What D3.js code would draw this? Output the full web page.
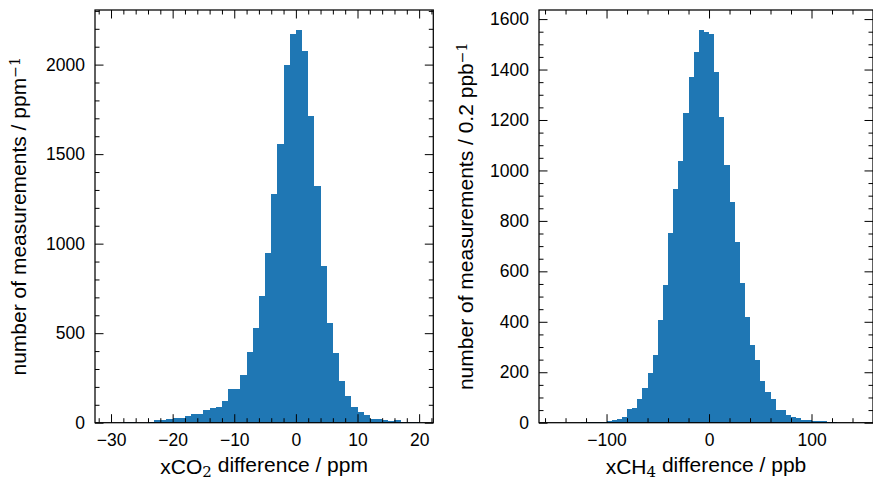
<!DOCTYPE html>
<html>
<head>
<meta charset="utf-8">
<script src="https://cdn.jsdelivr.net/npm/d3@7"></script>
<style>
  html, body { margin: 0; padding: 0; background: #fff; }
  svg { display: block; }
  text { font-family: "Liberation Sans", Arial, sans-serif; fill: #000; }
</style>
</head>
<body>
<svg id="chart" width="873" height="481"></svg>
<script>
// ---------- DATA ----------
// xCO2 difference histogram (bin left edges, ppm; bins 1 ppm wide)
const co2BinLeft = [-29,-28,-27,-26,-25,-24,-23,-22,-21,-20,-19,-18,-17,-16,-15,-14,-13,-12,-11,-10,
  -9,-8,-7,-6,-5,-4,-3,-2,-1,0,1,2,3,4,5,6,7,8,9,10,11,12,13,14,15,16,17,18,19];
const co2Counts = [0,3,3,0,1,2,13,15,19,28,24,39,47,48,69,82,89,119,186,188,
  266,395,529,708,946,1276,1555,2000,2170,2194,2078,1715,1322,875,555,388,233,151,88,60,43,22,22,15,9,15,2,4,4];
const co2BinWidth = 1;

// xCH4 difference histogram (bin left edges, ppb; bins 5 ppb wide)
const ch4BinLeft = [-125,-120,-115,-110,-105,-100,-95,-90,-85,-80,-75,-70,-65,-60,-55,-50,-45,-40,-35,-30,
  -25,-20,-15,-10,-5,0,5,10,15,20,25,30,35,40,45,50,55,60,65,70,75,80,85,90,95,100,105,110,115,120];
const ch4Counts = [2,3,3,3,4,7,11,15,21,56,58,94,136,198,267,407,545,751,926,1037,
  1229,1369,1470,1556,1550,1541,1391,1213,1020,876,715,552,420,308,248,165,120,93,50,50,30,21,17,11,11,7,7,7,3,3];
const ch4BinWidth = 5;

// tick values
const co2XTicks = [-30,-20,-10,0,10,20];
const co2YTicks = [0,500,1000,1500,2000];
const ch4XTicks = [-100,0,100];
const ch4YTicks = [0,200,400,600,800,1000,1200,1400,1600];

// labels
const co2XLabel = ["xCO", "2", " difference / ppm"];
const co2YLabel = ["number of measurements / ppm", "\u22121"];
const ch4XLabel = ["xCH", "4", " difference / ppb"];
const ch4YLabel = ["number of measurements / 0.2 ppb", "\u22121"];

// ---------- DRAW ----------
const svg = d3.select("#chart");
const barColor = "#1f77b4";
const fmt = d => (d < 0 ? "\u2212" + Math.abs(d) : String(d));

function panel(o) {
  const g = svg.append("g");
  const x = d3.scaleLinear().domain(o.xDomain).range([o.left, o.right]);
  const y = d3.scaleLinear().domain(o.yDomain).range([o.bottom, o.top]);

  // bars
  g.append("g").selectAll("rect")
    .data(o.binLeft.map((b, i) => ({ b, c: o.counts[i] })).filter(d => d.c > 0))
    .join("rect")
    .attr("x", d => x(d.b))
    .attr("width", d => x(d.b + o.binWidth) - x(d.b))
    .attr("y", d => y(d.c))
    .attr("height", d => y(0) - y(d.c))
    .attr("fill", barColor)
    .attr("shape-rendering", "crispEdges");

  const major = 8.5, minor = 4.5;
  const xMinor = d3.range(Math.ceil(o.xDomain[0] / o.xMinorStep) * o.xMinorStep, o.xDomain[1] + 1e-9, o.xMinorStep)
      .filter(v => !o.xTicks.includes(v));
  const yMinor = d3.range(0, o.yDomain[1] + 1e-9, o.yMinorStep).filter(v => !o.yTicks.includes(v));

  function addAxis(gen, transform, labels) {
    const a = g.append("g").attr("transform", transform).call(gen);
    a.select(".domain").remove();
    a.selectAll(".tick line").attr("stroke", "#000").attr("stroke-width", 1);
    a.selectAll("text").style("font-size", "17.5px").style("font-family", '"Liberation Sans", Arial, sans-serif');
    if (!labels) a.selectAll("text").remove();
    return a;
  }
  // bottom
  addAxis(d3.axisBottom(x).tickValues(o.xTicks).tickFormat(fmt).tickSizeInner(-major).tickSizeOuter(0).tickPadding(11),
    `translate(0,${o.bottom})`, true);
  addAxis(d3.axisBottom(x).tickValues(xMinor).tickFormat("").tickSizeInner(-minor).tickSizeOuter(0),
    `translate(0,${o.bottom})`, false);
  // top
  addAxis(d3.axisTop(x).tickValues(o.xTicks).tickFormat("").tickSizeInner(-major).tickSizeOuter(0),
    `translate(0,${o.top})`, false);
  addAxis(d3.axisTop(x).tickValues(xMinor).tickFormat("").tickSizeInner(-minor).tickSizeOuter(0),
    `translate(0,${o.top})`, false);
  // left
  addAxis(d3.axisLeft(y).tickValues(o.yTicks).tickFormat(fmt).tickSizeInner(-major).tickSizeOuter(0).tickPadding(10),
    `translate(${o.left},0)`, true);
  addAxis(d3.axisLeft(y).tickValues(yMinor).tickFormat("").tickSizeInner(-minor).tickSizeOuter(0),
    `translate(${o.left},0)`, false);
  // right
  addAxis(d3.axisRight(y).tickValues(o.yTicks).tickFormat("").tickSizeInner(-major).tickSizeOuter(0),
    `translate(${o.right},0)`, false);
  addAxis(d3.axisRight(y).tickValues(yMinor).tickFormat("").tickSizeInner(-minor).tickSizeOuter(0),
    `translate(${o.right},0)`, false);

  // frame
  g.append("rect")
    .attr("x", o.left).attr("y", o.top)
    .attr("width", o.right - o.left).attr("height", o.bottom - o.top)
    .attr("fill", "none").attr("stroke", "#000").attr("stroke-width", 1.25);

  // x label
  const xl = g.append("text")
    .attr("x", (o.left + o.right) / 2).attr("y", 473.5)
    .attr("text-anchor", "middle").style("font-size", "21px");
  xl.append("tspan").text(o.xLabel[0]);
  xl.append("tspan").attr("dy", "0.22em").style("font-size", "15px")
    .style("font-family", '"DejaVu Serif", "Liberation Serif", serif').text(o.xLabel[1]);
  xl.append("tspan").attr("dy", "-0.22em").text(o.xLabel[2]);

  // y label
  const yl = g.append("text")
    .attr("transform", `translate(${o.yLabelX},${(o.top + o.bottom) / 2}) rotate(-90)`)
    .attr("text-anchor", "middle").style("font-size", "21px");
  yl.append("tspan").text(o.yLabel[0]);
  yl.append("tspan").attr("dy", "-0.45em").style("font-size", "14px")
    .style("font-family", '"DejaVu Serif", "Liberation Serif", serif').text(o.yLabel[1]);
}

panel({
  left: 95, right: 433.3, top: 10, bottom: 422.7,
  xDomain: [-32.6, 22.3], yDomain: [0, 2305],
  binLeft: co2BinLeft, counts: co2Counts, binWidth: co2BinWidth,
  xTicks: co2XTicks, yTicks: co2YTicks, xMinorStep: 2, yMinorStep: 100,
  xLabel: co2XLabel, yLabel: co2YLabel, yLabelX: 26
});

panel({
  left: 539, right: 873, top: 10, bottom: 422.7,
  xDomain: [-165.9, 160], yDomain: [0, 1636],
  binLeft: ch4BinLeft, counts: ch4Counts, binWidth: ch4BinWidth,
  xTicks: ch4XTicks, yTicks: ch4YTicks, xMinorStep: 20, yMinorStep: 50,
  xLabel: ch4XLabel, yLabel: ch4YLabel, yLabelX: 473
});
</script>
</body>
</html>
